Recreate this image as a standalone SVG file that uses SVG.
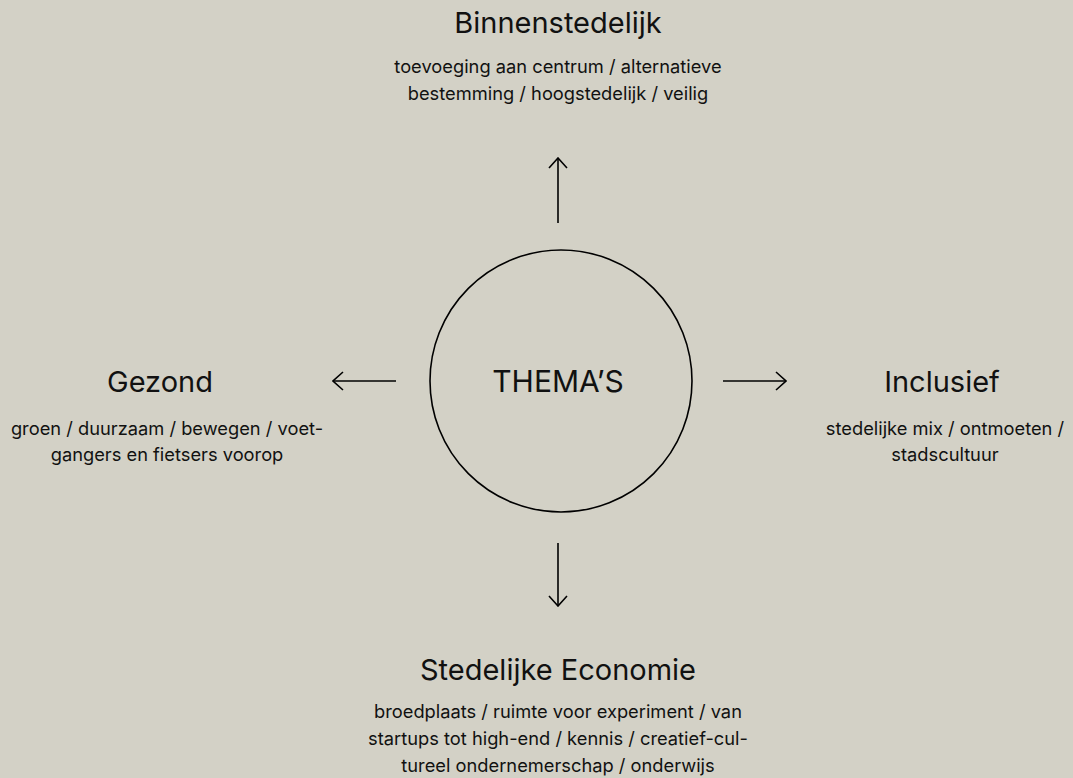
<svg xmlns="http://www.w3.org/2000/svg" width="1073" height="778" viewBox="0 0 1073 778">
<style>
.t{font-family:Inter,"Noto Sans",sans-serif;fill:#111;text-anchor:middle;font-size:29px}
.m{font-family:Inter,"Noto Sans",sans-serif;fill:#111;text-anchor:middle;font-size:30px}
.s{font-family:Inter,"Noto Sans",sans-serif;fill:#111;text-anchor:middle;font-size:18.3px}
.c{fill:none;stroke:#000;stroke-width:1.6}
</style>
<defs>
<marker id="ah" viewBox="0 0 12 20" refX="11" refY="10" markerWidth="12" markerHeight="20" markerUnits="userSpaceOnUse" orient="auto">
<path d="M1 1 L11 10 L1 19" fill="none" stroke="#000" stroke-width="1.6"/>
</marker>
</defs>
<rect width="1073" height="778" fill="#D3D1C6"/>
<g id="center">
<circle cx="561" cy="381" r="131" class="c"/>
<text x="558" y="392" class="m">THEMA’S</text>
</g>
<g id="connectors">
<line x1="558" y1="223" x2="558" y2="158" class="c" marker-end="url(#ah)"/>
<line x1="558" y1="543" x2="558" y2="606" class="c" marker-end="url(#ah)"/>
<line x1="396" y1="381" x2="333" y2="381" class="c" marker-end="url(#ah)"/>
<line x1="723" y1="381" x2="786" y2="381" class="c" marker-end="url(#ah)"/>
</g>
<g id="binnenstedelijk">
<text x="558" y="33" class="t">Binnenstedelijk</text>
<text x="558" y="73" class="s">toevoeging aan centrum / alternatieve</text>
<text x="558" y="100" class="s">bestemming / hoogstedelijk / veilig</text>
</g>
<g id="gezond">
<text x="160" y="392" class="t">Gezond</text>
<text x="167" y="435" class="s">groen / duurzaam / bewegen / voet-</text>
<text x="167" y="461" class="s">gangers en fietsers voorop</text>
</g>
<g id="inclusief">
<text x="942" y="392" class="t">Inclusief</text>
<text x="945" y="435" class="s">stedelijke mix / ontmoeten /</text>
<text x="945" y="461" class="s">stadscultuur</text>
</g>
<g id="economie">
<text x="558" y="680" class="t">Stedelijke Economie</text>
<text x="558" y="718" class="s">broedplaats / ruimte voor experiment / van</text>
<text x="558" y="745" class="s">startups tot high-end / kennis / creatief-cul-</text>
<text x="558" y="772" class="s">tureel ondernemerschap / onderwijs</text>
</g>
</svg>
